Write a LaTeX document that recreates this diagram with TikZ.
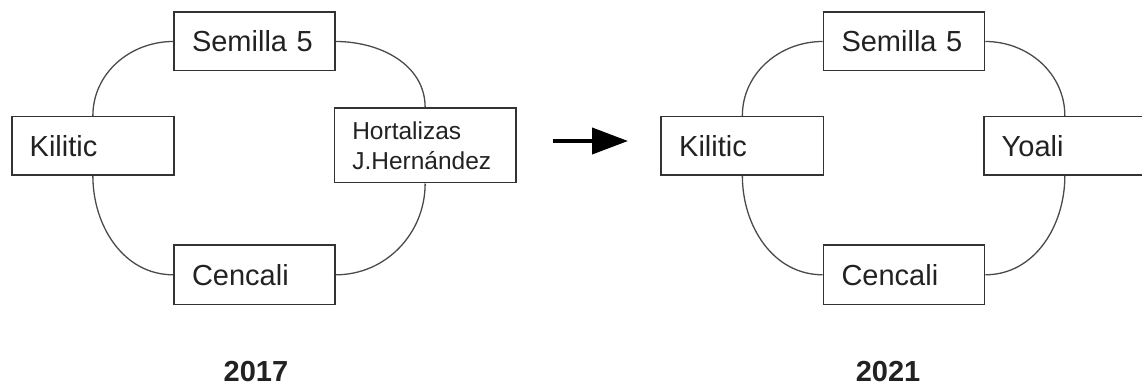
\documentclass[tikz,border=0pt]{standalone}
\usepackage{fontspec}
\setmainfont{Liberation Sans}
\usetikzlibrary{arrows.meta}
\definecolor{boxline}{HTML}{333333}
\definecolor{connline}{HTML}{4A4A4A}
\definecolor{txt}{HTML}{222222}
\tikzset{
  cbox/.style 2 args={draw=boxline, line width=1.6pt, rectangle, fill=white,
    minimum width=#1pt, minimum height=#2pt, text width=#1pt-36pt,
    inner xsep=18pt, inner ysep=0pt, align=left, text=txt,
    font=\fontsize{29pt}{35pt}\selectfont},
  smallbox/.style 2 args={cbox={#1}{#2}, font=\fontsize{24.5pt}{30pt}\selectfont},
  conn/.style={draw=connline, line width=1.3pt},
  year/.style={font=\fontsize{29pt}{35pt}\selectfont\bfseries, text=txt, anchor=base, inner sep=0pt},
  bigarrow/.style={line width=4pt, draw=black, -{Triangle[length=36pt,width=26pt]}}
}
\begin{document}
\begin{tikzpicture}[x=1pt,y=-1pt]
\useasboundingbox (0,0) rectangle (1142,387);
% 2017
\node[cbox={161}{58.4}] (ls) at (254.5,41.5) {Semilla 5};
\node[cbox={162.3}{58.3}] (lk) at (92.85,145.85) {Kilitic};
\node[smallbox={181.7}{74.4}] (lh) at (425.15,145.5) {Hortalizas\\J.Hernández};
\node[cbox={161}{59}] (lc) at (254.5,274.8) {Cencali};
\draw[conn] (ls.west) to[out=180,in=90] (lk.north);
\draw[conn] (ls.east) to[out=0,in=90] (lh.north);
\draw[conn] (lk.south) to[out=-90,in=180] (lc.west);
\draw[conn] (lh.south) to[out=-90,in=0] (lc.east);
\node[year] (y1) at (256,381) {2017};
% arrow
\coordinate (arrS) at (553,141);
\coordinate (arrE) at (628,141);
\draw[bigarrow] (arrS) -- (arrE);
% 2021
\node[cbox={161}{58.4}] (rs) at (904,41.5) {Semilla 5};
\node[cbox={162.3}{58.3}] (rk) at (742.35,145.85) {Kilitic};
\node[cbox={162.3}{58.3}] (ry) at (1064.85,145.85) {Yoali};
\node[cbox={161}{59}] (rc) at (904,274.8) {Cencali};
\draw[conn] (rs.west) to[out=180,in=90] (rk.north);
\draw[conn] (rs.east) to[out=0,in=90] (ry.north);
\draw[conn] (rk.south) to[out=-90,in=180] (rc.west);
\draw[conn] (ry.south) to[out=-90,in=0] (rc.east);
\node[year] (y2) at (888,381) {2021};
\end{tikzpicture}
\end{document}
